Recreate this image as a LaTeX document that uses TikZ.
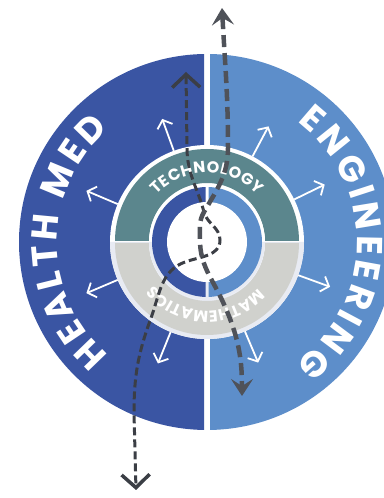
\documentclass[tikz,border=0pt]{standalone}
\usepackage{fontspec}
\setmainfont{Poppins}
\usetikzlibrary{arrows.meta,decorations.text}

\definecolor{healthblue}{HTML}{3A55A3}
\definecolor{engblue}{HTML}{5D8ECA}
\definecolor{techteal}{HTML}{5B868D}
\definecolor{mathgrey}{HTML}{D0D1CD}
\definecolor{mathrim}{HTML}{E8EBF3}
\definecolor{pathdark}{HTML}{3B3E45}
\definecolor{pathgrey}{HTML}{4F5259}

\begin{document}
\begin{tikzpicture}[x=1pt,y=1pt,
  spoke/.style={white,line width=1.8pt,-{Straight Barb[length=7pt,width=16pt]}},
  thinpath/.style={pathdark,line width=3pt,dash pattern=on 8pt off 4pt,
    {Straight Barb[length=13pt,width=28pt,line width=3.5pt]}-{Straight Barb[length=13pt,width=28pt,line width=3.5pt]}},
  thickpath/.style={pathgrey,line width=4.5pt,dash pattern=on 12pt off 6pt,
    {Stealth[length=17pt,width=22pt,inset=7pt]}-{Stealth[length=17pt,width=22pt,inset=7pt]}},
  bigword/.style={decorate,decoration={text along path,text align=fit to path,
    text={|\bfseries\fontsize{36}{36}\selectfont\color{white}|#1}}},
  ringword/.style={decorate,decoration={text along path,text align=fit to path,
    text={|\bfseries\fontsize{16}{16}\selectfont\color{white}|#1}}}]

\useasboundingbox (0,0) rectangle (383,498);

\begin{scope}[shift={(207,256)}]
% the two halves
\begin{scope}
\clip (-200,-200) rectangle (-3,200);
\fill[healthblue] (0,0) circle (188);
\end{scope}
\begin{scope}
\clip (3,-200) rectangle (200,200);
\fill[engblue] (0,0) circle (188);
\end{scope}

\path[bigword={HEALTH MED}] (229:150) arc[start angle=229,end angle=131,radius=150];
\path[bigword={ENGINEERING}] (53:150) arc[start angle=53,end angle=-54,radius=150];

% spokes
\foreach \a in {110,157,203,248,62,26,-20,-67}
  \draw[spoke] (\a:97) -- (\a:131);

% ring
\fill[white] (0,0) circle (97);
\fill[mathrim] (-97,0) arc[start angle=180,end angle=360,radius=97] -- cycle;
\fill[techteal] (92,1) arc[start angle=0,end angle=180,radius=92] -- (-58,1) arc[start angle=180,end angle=0,radius=58] -- cycle;
\fill[mathgrey] (-92,-1) arc[start angle=180,end angle=360,radius=92] -- (58,-1) arc[start angle=0,end angle=-180,radius=58] -- cycle;

\path[ringword={TECHNOLOGY}] (137:69) arc[start angle=137,end angle=43,radius=69];
\path[ringword={MATHEMATICS}] (-42:69) arc[start angle=-42,end angle=-138,radius=69];

% inner ring
\fill[white] (0,0) circle (58);
\fill[mathrim] (-58,0) arc[start angle=180,end angle=360,radius=58] -- cycle;
\begin{scope}
\clip (-60,-60) rectangle (-1.5,60);
\fill[healthblue] (0,0) circle (55);
\end{scope}
\begin{scope}
\clip (1.5,-60) rectangle (60,60);
\fill[engblue] (0,0) circle (55);
\end{scope}
\fill[white] (0,0) circle (40);
\end{scope}

% dashed routes
\coordinate (thinTop) at (186,426);
\coordinate (thinBot) at (136,8);
\coordinate (thickTop) at (222,490);
\coordinate (thickBot) at (242,102);

\draw[thinpath] (thinTop) -- (187,350) to[out=-90,in=105] (204,286)
  to[out=-75,in=90] (220,258) to[out=-90,in=20] (185,236)
  to[out=200,in=70] (151,180) to[out=-110,in=90] (134,85) -- (thinBot);
\draw[thickpath] (thickTop) to[out=-87,in=90] (228,350) to[out=-90,in=60] (204,286)
  to[out=240,in=90] (200,258) to[out=-90,in=115] (222,198)
  to[out=-65,in=90] (thickBot);

\end{tikzpicture}
\end{document}
